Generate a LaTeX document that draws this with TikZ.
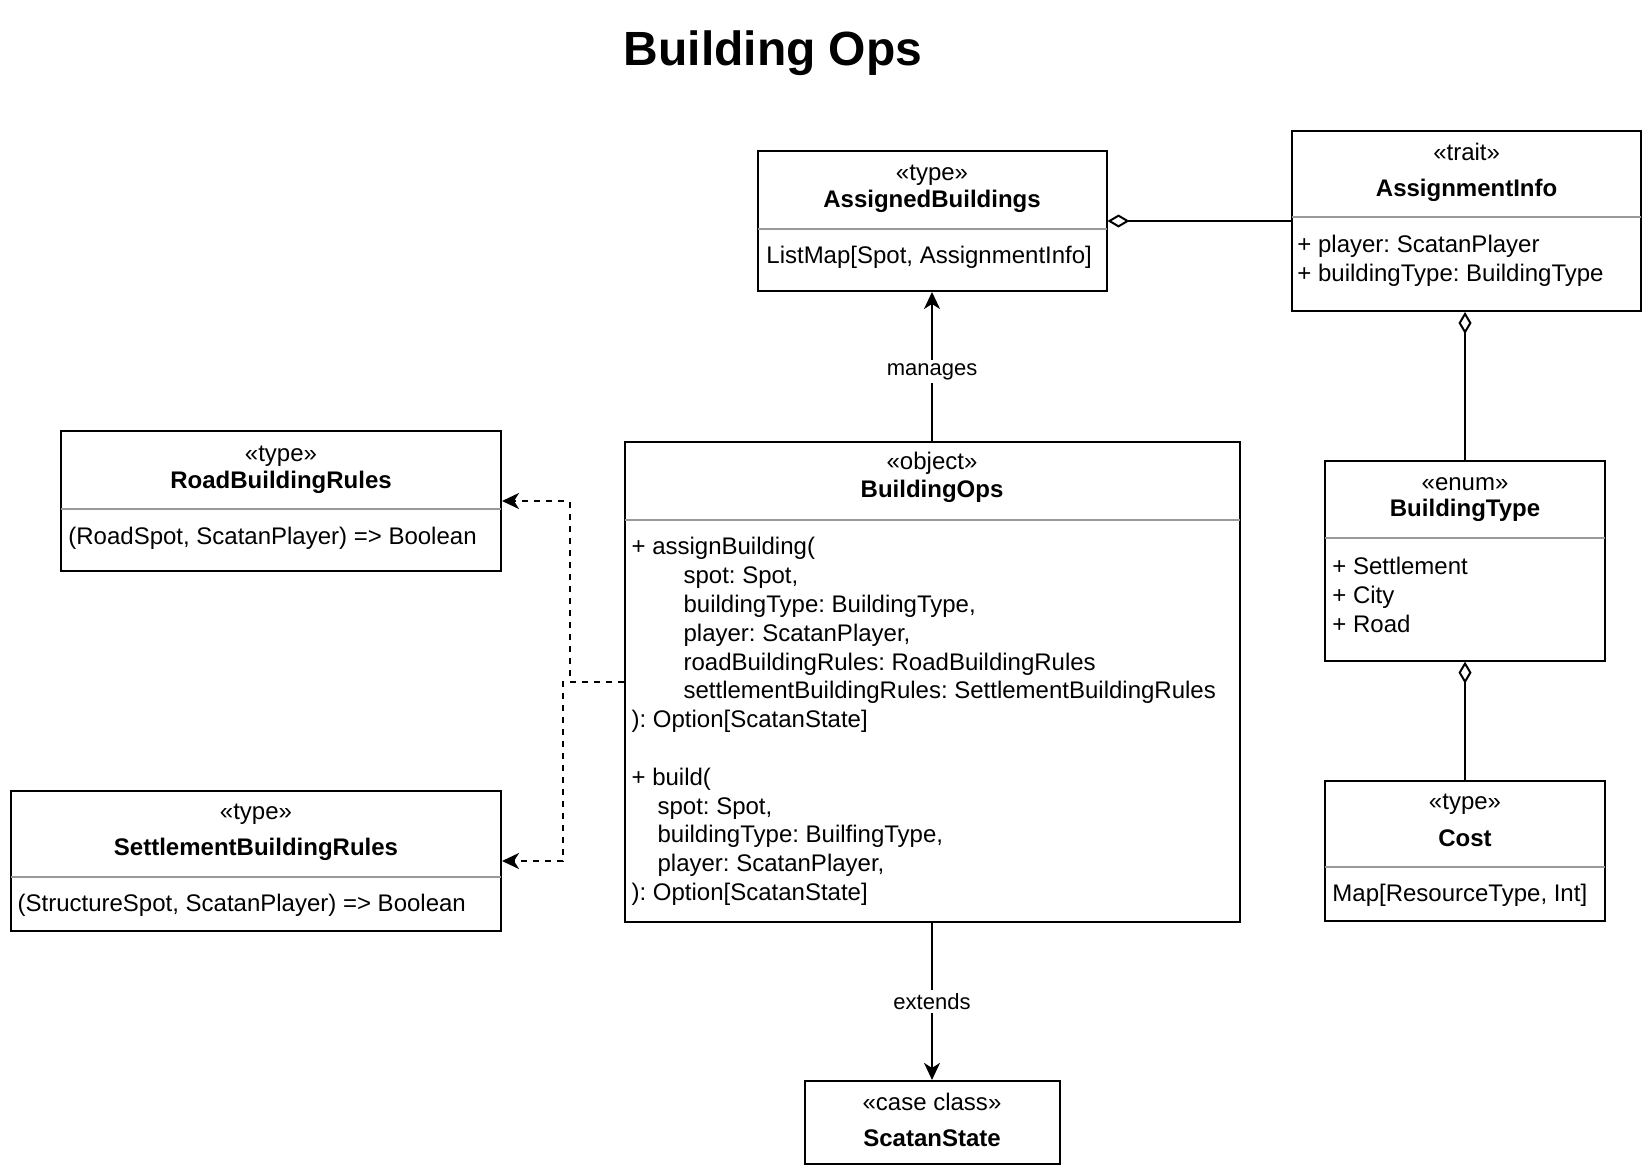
\documentclass[tikz,border=0pt]{standalone}
\usepackage{fontspec}
\setmainfont{Liberation Sans}
\usetikzlibrary{arrows.meta}
\definecolor{dividergray}{HTML}{999999}
\frenchspacing

\begin{document}
\begin{tikzpicture}[
        x=1pt, y=-1pt,
        classbox/.style={rectangle, draw, line width=1pt, inner sep=0pt},
        stereo/.style={inner sep=0pt, font=\fontsize{12}{14.4}\selectfont},
        classname/.style={inner sep=0pt, font=\bfseries\fontsize{12}{14.4}\selectfont},
        member/.style={inner sep=0pt, anchor=west, align=left, font=\fontsize{12}{14.4}\selectfont},
        divider/.style={draw=dividergray, line width=1pt, shorten <=0.5pt, shorten >=0.5pt},
        edge_label/.style={font=\fontsize{11}{13.2}\selectfont, fill=white, inner sep=1.5pt},
        arrow/.style={line width=1pt, -{Stealth[length=8.5pt, width=8pt, inset=2.5pt]}},
        dep_arrow/.style={line width=1pt, dash pattern=on 3pt off 3pt, -{Stealth[length=8.5pt, width=8pt, inset=2.5pt]}},
        aggregation/.style={line width=1pt, {Diamond[open, length=11pt, width=6.5pt]}-}
    ]
        \fill[white] (0,0) rectangle (826,586);
        \useasboundingbox (0,0) rectangle (826,586);

        % Title
        \node[inner sep=0pt, font=\bfseries\fontsize{24}{28.8}\selectfont] (title) at (386.5,26.6) {Building Ops};

        % Class boxes
        \node[classbox, minimum width=174.5pt, minimum height=70pt] (abld) at (466,110.5) {};
        \node[classbox, minimum width=174.5pt, minimum height=90pt] (ainfo) at (733.3,110.5) {};
        \node[classbox, minimum width=307.5pt, minimum height=240.3pt] (ops) at (466,340.9) {};
        \node[classbox, minimum width=127.5pt, minimum height=41.5pt] (scstate) at (466,561.2) {};
        \node[classbox, minimum width=220pt, minimum height=70pt] (roadrules) at (140.5,250.5) {};
        \node[classbox, minimum width=245pt, minimum height=70pt] (setrules) at (128,430.5) {};
        \node[classbox, minimum width=140pt, minimum height=99.8pt] (btype) at (732.5,280.4) {};
        \node[classbox, minimum width=140pt, minimum height=69.8pt] (cost) at (732.5,425.4) {};

        % Dividers between header and members
        \draw[divider] (abld.west |- 0,114.5) -- (abld.east |- 0,114.5);
        \draw[divider] (ainfo.west |- 0,108.5) -- (ainfo.east |- 0,108.5);
        \draw[divider] (ops.west |- 0,259.8) -- (ops.east |- 0,259.8);
        \draw[divider] (roadrules.west |- 0,254.5) -- (roadrules.east |- 0,254.5);
        \draw[divider] (setrules.west |- 0,438.5) -- (setrules.east |- 0,438.5);
        \draw[divider] (btype.west |- 0,269.2) -- (btype.east |- 0,269.2);
        \draw[divider] (cost.west |- 0,433.5) -- (cost.east |- 0,433.5);

        % AssignedBuildings
        \node[stereo] (abld_st) at (466,87.5) {«type»};
        \node[classname] (abld_nm) at (466,100.5) {AssignedBuildings};
        \node[member] (abld_mb) at (383,128.5) {ListMap[Spot, AssignmentInfo]};

        % AssignmentInfo
        \node[stereo] (ainfo_st) at (733.3,76) {«trait»};
        \node[classname] (ainfo_nm) at (733.3,95) {AssignmentInfo};
        \node[member, anchor=north west] (ainfo_mb) at (648.5,117.3) {+ player: ScatanPlayer\\+ buildingType: BuildingType};

        % BuildingOps
        \node[stereo] (ops_st) at (466,231.8) {«object»};
        \node[classname] (ops_nm) at (466,245.5) {BuildingOps};
        \node[member, anchor=north west] (ops_mb) at (315.6,268.5) {+ assignBuilding(\\
            \hspace*{26pt}spot: Spot,\\
            \hspace*{26pt}buildingType: BuildingType,\\
            \hspace*{26pt}player: ScatanPlayer,\\
            \hspace*{26pt}roadBuildingRules: RoadBuildingRules\\
            \hspace*{26pt}settlementBuildingRules: SettlementBuildingRules\\
            ): Option[ScatanState]\\[14.4pt]
            + build(\\
            \hspace*{13pt}spot: Spot,\\
            \hspace*{13pt}buildingType: BuilfingType,\\
            \hspace*{13pt}player: ScatanPlayer,\\
            ): Option[ScatanState]};

        % ScatanState
        \node[stereo] (scstate_st) at (466,550.8) {«case class»};
        \node[classname] (scstate_nm) at (466,569.3) {ScatanState};

        % RoadBuildingRules
        \node[stereo] (roadrules_st) at (140.5,227.9) {«type»};
        \node[classname] (roadrules_nm) at (140.5,241.3) {RoadBuildingRules};
        \node[member] (roadrules_mb) at (34,269) {(RoadSpot, ScatanPlayer) => Boolean};

        % SettlementBuildingRules
        \node[stereo] (setrules_st) at (128,407.2) {«type»};
        \node[classname] (setrules_nm) at (128,424.7) {SettlementBuildingRules};
        \node[member] (setrules_mb) at (8.6,452.6) {(StructureSpot, ScatanPlayer) => Boolean};

        % BuildingType
        \node[stereo] (btype_st) at (732.5,242.3) {«enum»};
        \node[classname] (btype_nm) at (732.5,255.3) {BuildingType};
        \node[member, anchor=north west] (btype_mb) at (666,278.3) {+ Settlement\\+ City\\+ Road};

        % Cost
        \node[stereo] (cost_st) at (732.5,402) {«type»};
        \node[classname] (cost_nm) at (732.5,419) {Cost};
        \node[member] (cost_mb) at (666,447.5) {Map[ResourceType, Int]};

        % Connections with labels
        \draw[arrow] (ops.north) -- (abld.south) node[edge_label, pos=0.465] {manages};
        \draw[arrow] (ops.south) -- (scstate.north) node[edge_label, midway] {extends};
        \draw[dep_arrow] (ops.west) -- ++(-27,0) |- (roadrules.east);
        \draw[dep_arrow] (ops.west) -- ++(-30.5,0) |- (setrules.east);
        \draw[aggregation] (abld.east) -- (ainfo.west);
        \draw[aggregation] (btype.north |- ainfo.south) -- (btype.north);
        \draw[aggregation] (btype.south) -- (cost.north);

    \end{tikzpicture}
\end{document}
